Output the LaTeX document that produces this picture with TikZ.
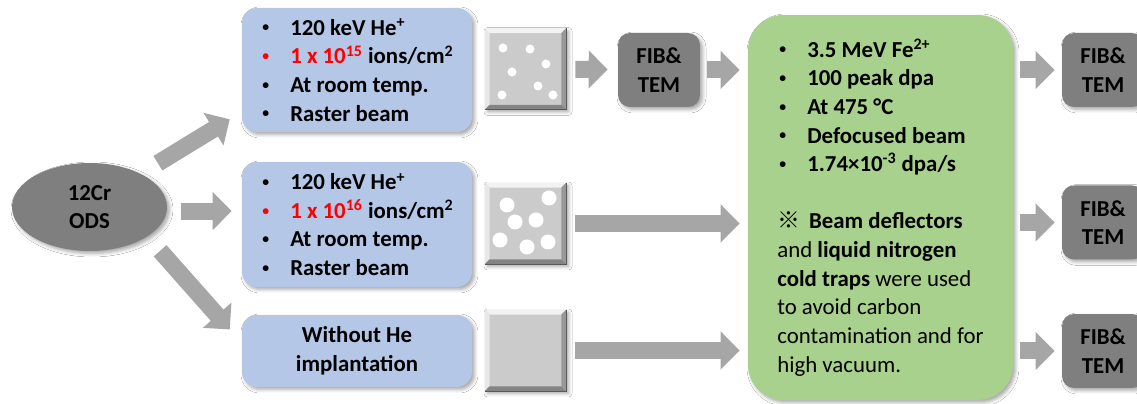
\documentclass[tikz,border=0pt]{standalone}
\usepackage{graphicx}
\usepackage{fontspec}
\setmainfont{Carlito}
\newfontfamily\cjkfont{Noto Sans CJK SC}
\usetikzlibrary{shapes.geometric, arrows.meta, shadows.blur}

\definecolor{doseblue}{HTML}{B4C7E7}
\definecolor{irrgreen}{HTML}{A9D18E}
\definecolor{fibgray}{HTML}{7F7F7F}
\definecolor{arrowgray}{HTML}{A6A6A6}
\definecolor{samplegray}{HTML}{CBCBCB}

\newcommand{\bul}{\makebox[0.6cm][l]{\hspace{0.04cm}\raisebox{0.3ex}{\scalebox{0.6}{\textbullet}}}}

\begin{document}
\begin{tikzpicture}[
    x=0.02cm, y=-0.02cm,
    txt/.style={font=\fontsize{13}{16.3}\selectfont\bfseries},
    soft/.style={blur shadow={shadow xshift=0.05cm, shadow yshift=-0.05cm, shadow blur radius=0.07cm, shadow opacity=35}},
    dose/.style={txt, soft, fill=doseblue, rounded corners=0.3cm, minimum width=4.6cm, align=left},
    fib/.style={txt, soft, fill=fibgray, rounded corners=0.24cm, minimum width=1.64cm, minimum height=1.48cm, align=center},
    sample/.style={soft, fill=samplegray, minimum size=1.62cm, inner sep=0pt},
    blockarrow/.style={draw=arrowgray, line width=0.34cm, -{Triangle[length=0.38cm, width=0.74cm]}}
]
\useasboundingbox[fill=white] (0,0) rectangle (1137,404);

% material
\node[txt, soft, ellipse, fill=fibgray, minimum width=3.1cm, minimum height=1.76cm, align=center] (ods) at (89.5,207) {12Cr\\ODS};

% He implantation conditions
\node[dose, minimum height=2.48cm] (imp1) at (357,70) {%
    \bul 120 keV He\textsuperscript{+}\\
    {\color{red}\bul 1 x 10\textsuperscript{15}} ions/cm\textsuperscript{2}\\
    \bul At room temp.\\
    \bul Raster beam};
\node[dose, minimum height=2.5cm] (imp2) at (357,224.5) {%
    \bul 120 keV He\textsuperscript{+}\\
    {\color{red}\bul 1 x 10\textsuperscript{16}} ions/cm\textsuperscript{2}\\
    \bul At room temp.\\
    \bul Raster beam};
\node[dose, minimum height=1.44cm, align=center] (imp3) at (357,351) {Without He\\implantation};

% samples
\node[sample] (sq1) at (525.5,69) {};
\node[sample] (sq2) at (525.5,223.5) {};
\node[sample] (sq3) at (525.5,350.5) {};
\foreach \s in {sq1,sq2,sq3}{
    \fill[white!75!samplegray] (\s.north west) -- (\s.north east) -- ([shift={(-5,5)}]\s.north east) -- ([shift={(5,5)}]\s.north west) -- cycle;
    \fill[white!55!samplegray] (\s.north west) -- ([shift={(5,5)}]\s.north west) -- ([shift={(5,-5)}]\s.south west) -- (\s.south west) -- cycle;
    \fill[black!35!samplegray] (\s.south west) -- (\s.south east) -- ([shift={(-5,-5)}]\s.south east) -- ([shift={(5,-5)}]\s.south west) -- cycle;
    \fill[black!25!samplegray] (\s.north east) -- (\s.south east) -- ([shift={(-5,-5)}]\s.south east) -- ([shift={(-5,5)}]\s.north east) -- cycle;
    \draw[black!65, line width=0.6pt] (\s.north east) -- (\s.south east) -- (\s.south west);
}
% bubbles
\foreach \dx/\dy in {-22.5/-21, 4.5/-20, 20.5/-5, -13.5/3, 12.5/17, -23.5/26, 27.5/26}
    \fill[white] (sq1.center) ++(\dx,\dy) circle[radius=4.5];
\foreach \dx/\dy in {23.5/-25.5, -18.5/-18.5, -10.5/-1.5, 10.5/-3.5, -25.5/16.5, 1.5/23.5, 22.5/18.5}
    \fill[white] (sq2.center) ++(\dx,\dy) circle[radius=7.5];

% pre-irradiation check
\node[fib] (fib1) at (659,70) {FIB\&\\TEM};

% Fe ion irradiation
\node[soft, fill=irrgreen, rounded corners=0.7cm, minimum width=5.3cm, minimum height=7.7cm, align=left, font=\fontsize{13}{16.3}\selectfont] (irr) at (880.5,207.5) {%
    \textbf{\bul 3.5 MeV Fe\textsuperscript{2+}}\\
    \textbf{\bul 100 peak dpa}\\
    \textbf{\bul At 475 °C}\\
    \textbf{\bul Defocused beam}\\
    \textbf{\bul 1.74×10\textsuperscript{-3} dpa/s}\\[16.3pt]
    {\cjkfont ※}\, \textbf{Beam deflectors}\\
    and \textbf{liquid nitrogen}\\
    \textbf{cold traps} were used\\
    to avoid carbon\\
    contamination and for\\
    high vacuum.};

% post-irradiation analysis
\node[fib] (fib2) at (1103,70) {FIB\&\\TEM};
\node[fib] (fib3) at (1103,222.5) {FIB\&\\TEM};
\node[fib] (fib4) at (1103,351) {FIB\&\\TEM};

% arrows
\draw[blockarrow, shorten <=0.4cm, shorten >=0.28cm] (ods.33) -- (imp1.200);
\draw[blockarrow, shorten <=0.28cm, shorten >=0.2cm] (ods.357) -- (ods.357 -| imp2.west);
\draw[blockarrow, shorten <=0.38cm, shorten >=0.36cm] (ods.333) -- (imp3.176);
\draw[blockarrow, shorten <=0.18cm, shorten >=0.2cm] (sq1) -- (fib1);
\draw[blockarrow, shorten <=0.14cm, shorten >=0.16cm] (fib1) -- (fib1 -| irr.west);
\draw[blockarrow, shorten <=0.18cm, shorten >=0.16cm] (sq2) -- (sq2 -| irr.west);
\draw[blockarrow, shorten <=0.18cm, shorten >=0.16cm] (sq3) -- (sq3 -| irr.west);
\foreach \f in {fib2,fib3,fib4}
    \draw[blockarrow, shorten <=0.14cm, shorten >=0.14cm] (irr.east |- \f) -- (\f);

\end{tikzpicture}
\end{document}
